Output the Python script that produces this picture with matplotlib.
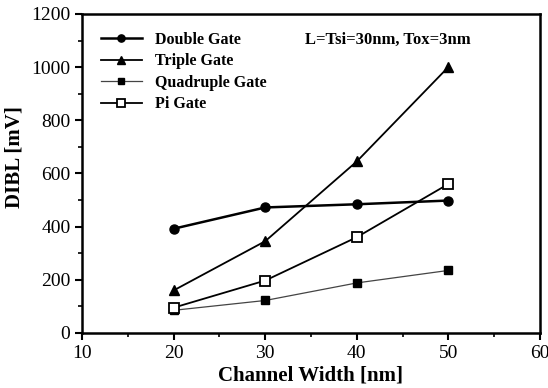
import matplotlib.pyplot as plt
from matplotlib.ticker import MultipleLocator

width = [20, 30, 40, 50]
double_gate = [392, 472, 484, 498]
triple_gate = [160, 345, 645, 1000]
quad_gate = [85, 122, 188, 235]
pi_gate = [95, 197, 360, 560]


def main():
    plt.rcParams['font.family'] = ['Liberation Serif', 'DejaVu Serif']
    fig = plt.figure(figsize=(5.48, 3.88), dpi=100)
    ax = fig.add_axes([0.150, 0.142, 0.835, 0.822])

    ax.plot(width, double_gate, color='black', lw=1.8, marker='o', ms=6.5, label='Double Gate')
    ax.plot(width, triple_gate, color='black', lw=1.3, marker='^', ms=6.5, label='Triple Gate')
    ax.plot(width, quad_gate, color='#444444', lw=0.9, marker='s', ms=6,
            markerfacecolor='black', markeredgecolor='black', label='Quadruple Gate')
    ax.plot(width, pi_gate, color='black', lw=1.3, marker='s', ms=7,
            markerfacecolor='white', markeredgecolor='black', mew=1.3, label='Pi Gate')

    ax.set_xlim(10, 60)
    ax.set_ylim(0, 1200)
    ax.xaxis.set_major_locator(MultipleLocator(10))
    ax.xaxis.set_minor_locator(MultipleLocator(5))
    ax.yaxis.set_major_locator(MultipleLocator(200))
    ax.yaxis.set_minor_locator(MultipleLocator(100))
    ax.tick_params(which='major', direction='out', length=5, width=1.5, labelsize=14)
    ax.tick_params(which='minor', direction='out', length=3, width=1.2)
    for s in ax.spines.values():
        s.set_linewidth(1.8)

    ax.set_xlabel('Channel Width [nm]', fontsize=15, fontweight='bold', labelpad=3)
    ax.set_ylabel('DIBL [mV]', fontsize=15, fontweight='bold', labelpad=5)
    ax.yaxis.label.set_y(0.55)

    ax.text(0.487, 0.918, 'L=Tsi=30nm, Tox=3nm', transform=ax.transAxes,
            fontsize=12, fontweight='bold', va='center', ha='left')

    ax.legend(loc='upper left', bbox_to_anchor=(0.04, 0.945), frameon=False,
              prop={'weight': 'bold', 'size': 11.5}, handlelength=2.6, markerscale=0.8,
              labelspacing=0.35, borderaxespad=0, borderpad=0)

    fig.savefig('out.png', dpi=100)


if __name__ == "__main__":
    main()
